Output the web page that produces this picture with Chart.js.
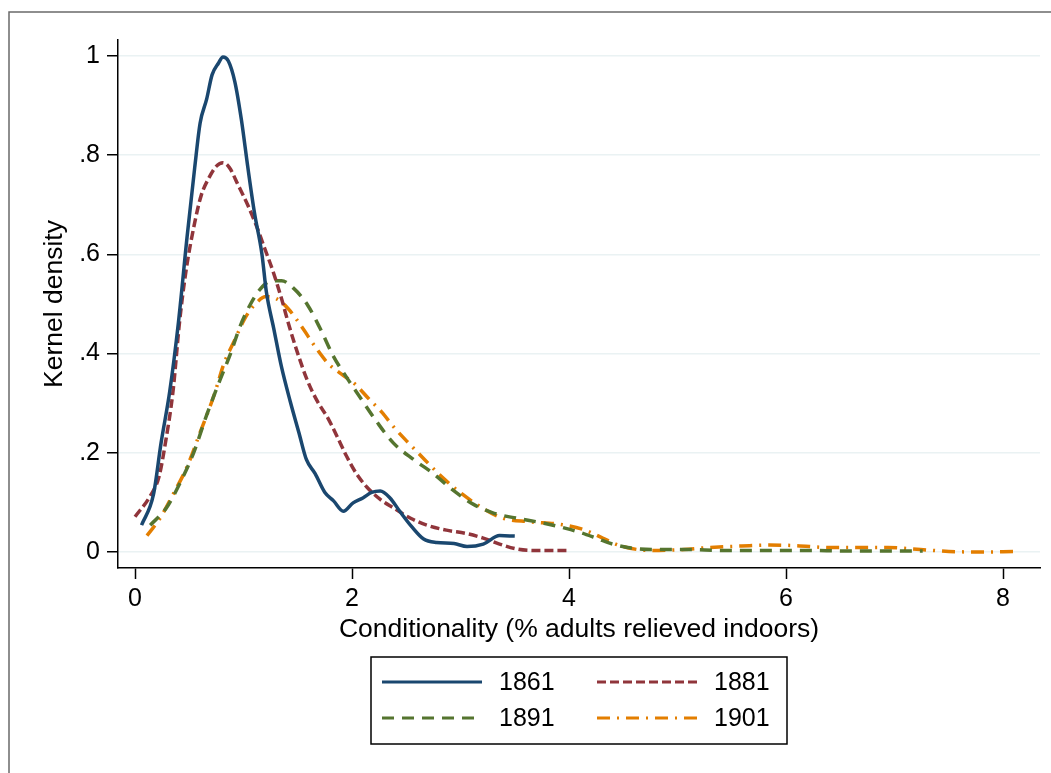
<!DOCTYPE html>
<html>
<head>
<meta charset="utf-8">
<script src="https://cdn.jsdelivr.net/npm/chart.js@4.4.1/dist/chart.umd.min.js"></script>
<style>
  html, body { margin: 0; padding: 0; background: #fff; }
  #wrap { position: relative; width: 1051px; height: 773px; }
</style>
</head>
<body>
<div id="wrap"><canvas id="kdens" width="1051" height="773"></canvas></div>
<script>
'use strict'

// series names
const years = ['1861', '1881', '1891', '1901'];

// 1861
const x1861 = [0.06, 0.17, 0.24, 0.32, 0.40, 0.48, 0.55, 0.60, 0.66, 0.71, 0.77, 0.81, 0.86, 0.92, 0.98, 1.04, 1.10, 1.17, 1.21, 1.28, 1.35, 1.43, 1.51, 1.58, 1.66, 1.75, 1.83, 1.92, 2.01, 2.10, 2.18, 2.26, 2.35, 2.44, 2.55, 2.66, 2.78, 2.94, 3.06, 3.21, 3.36, 3.50];
const y1861 = [0.054, 0.116, 0.22, 0.324, 0.463, 0.636, 0.775, 0.865, 0.913, 0.962, 0.986, 0.998, 0.99, 0.948, 0.872, 0.775, 0.685, 0.60, 0.525, 0.449, 0.373, 0.304, 0.241, 0.186, 0.158, 0.12, 0.103, 0.082, 0.099, 0.109, 0.12, 0.123, 0.109, 0.082, 0.051, 0.026, 0.019, 0.017, 0.011, 0.016, 0.033, 0.032];

// 1881
const x1881 = [0.00, 0.14, 0.22, 0.28, 0.35, 0.41, 0.47, 0.55, 0.61, 0.68, 0.75, 0.81, 0.87, 0.95, 1.04, 1.12, 1.19, 1.27, 1.35, 1.42, 1.50, 1.59, 1.68, 1.78, 1.86, 1.95, 2.04, 2.14, 2.26, 2.38, 2.54, 2.69, 2.87, 3.06, 3.21, 3.36, 3.52, 3.67, 3.98];
const y1881 = [0.071, 0.113, 0.151, 0.22, 0.324, 0.463, 0.567, 0.664, 0.719, 0.754, 0.778, 0.785, 0.775, 0.74, 0.699, 0.657, 0.615, 0.567, 0.511, 0.456, 0.40, 0.345, 0.304, 0.269, 0.234, 0.193, 0.158, 0.13, 0.106, 0.089, 0.068, 0.054, 0.044, 0.037, 0.028, 0.016, 0.006, 0.003, 0.003];

// 1891
const x1891 = [0.14, 0.29, 0.41, 0.54, 0.66, 0.78, 0.88, 0.97, 1.06, 1.15, 1.25, 1.35, 1.46, 1.59, 1.71, 1.83, 1.95, 2.08, 2.23, 2.38, 2.57, 2.75, 2.94, 3.12, 3.31, 3.52, 3.77, 3.98, 4.12, 4.26, 4.40, 4.54, 4.76, 5.06, 5.44, 5.81, 6.19, 6.56, 6.94, 7.26];
const y1891 = [0.054, 0.089, 0.137, 0.20, 0.276, 0.345, 0.40, 0.456, 0.498, 0.529, 0.546, 0.547, 0.532, 0.498, 0.449, 0.394, 0.352, 0.31, 0.262, 0.22, 0.186, 0.158, 0.123, 0.096, 0.078, 0.068, 0.058, 0.047, 0.038, 0.027, 0.016, 0.009, 0.005, 0.005, 0.003, 0.003, 0.003, 0.002, 0.002, 0.002];

// 1901
const x1901 = [0.11, 0.23, 0.35, 0.48, 0.60, 0.73, 0.82, 0.92, 1.01, 1.10, 1.21, 1.30, 1.41, 1.53, 1.66, 1.78, 1.90, 2.03, 2.15, 2.27, 2.40, 2.52, 2.67, 2.83, 3.02, 3.20, 3.39, 3.63, 3.94, 4.15, 4.31, 4.48, 4.76, 5.06, 5.29, 5.59, 5.85, 6.08, 6.41, 6.68, 6.94, 7.24, 7.50, 7.80, 8.10];
const y1901 = [0.033, 0.068, 0.116, 0.172, 0.241, 0.317, 0.38, 0.428, 0.47, 0.498, 0.515, 0.511, 0.491, 0.456, 0.414, 0.38, 0.359, 0.338, 0.31, 0.283, 0.248, 0.22, 0.186, 0.151, 0.116, 0.089, 0.068, 0.061, 0.055, 0.044, 0.028, 0.012, 0.003, 0.005, 0.009, 0.012, 0.014, 0.013, 0.009, 0.009, 0.009, 0.005, 0.001, 0, 0.001];

// axis ticks
const xTicks = [0, 2, 4, 6, 8];
const xTickLabels = ['0', '2', '4', '6', '8'];
const yTicks = [0, 0.2, 0.4, 0.6, 0.8, 1];
const yTickLabels = ['0', '.2', '.4', '.6', '.8', '1'];

const FONT = "'Liberation Sans', Arial, sans-serif";

function pts(xs, ys) {
  return xs.map((x, i) => ({ x: x, y: ys[i] }));
}

function line(label, xs, ys, color, dash) {
  return {
    label: label,
    data: pts(xs, ys),
    borderColor: color,
    backgroundColor: color,
    borderWidth: 3.5,
    borderDash: dash,
    pointRadius: 0,
    cubicInterpolationMode: 'monotone',
    fill: false
  };
}

// outer frame of the graph region (cut by the window)
const framePlugin = {
  id: 'frame',
  beforeDraw(chart) {
    const c = chart.ctx;
    c.save();
    c.fillStyle = '#fff';
    c.fillRect(0, 0, chart.width, chart.height);
    c.strokeStyle = '#6a6a6a';
    c.lineWidth = 1.5;
    c.beginPath();
    c.moveTo(9, chart.height);
    c.lineTo(9, 12);
    c.lineTo(chart.width, 12);
    c.stroke();
    c.restore();
  }
};

// boxed two column legend
const legendPlugin = {
  id: 'boxLegend',
  afterDraw(chart) {
    const c = chart.ctx;
    c.save();
    c.strokeStyle = '#000';
    c.lineWidth = 1.5;
    c.strokeRect(371, 657, 416, 87);
    const spots = [[382, 682], [597, 682], [382, 718], [597, 718]];
    chart.data.datasets.forEach((ds, i) => {
      const [lx, ly] = spots[i];
      c.strokeStyle = ds.borderColor;
      c.lineWidth = 3;
      c.setLineDash(ds.borderDash || []);
      c.beginPath();
      c.moveTo(lx, ly);
      c.lineTo(lx + 100, ly);
      c.stroke();
      c.setLineDash([]);
      c.fillStyle = '#000';
      c.font = '25px ' + FONT;
      c.textBaseline = 'middle';
      c.fillText(ds.label, lx + 117, ly + 1);
    });
    c.restore();
  }
};

const ctx = document.getElementById('kdens').getContext('2d');
const kdChart = new Chart(ctx, {
  type: 'scatter',
  data: {
    datasets: [
      line(years[0], x1861, y1861, '#1a476f', []),
      line(years[1], x1881, y1881, '#90353b', [9, 4]),
      line(years[2], x1891, y1891, '#55752f', [12, 8]),
      line(years[3], x1901, y1901, '#e37e00', [13, 7, 2, 7])
    ]
  },
  options: {
    responsive: false,
    animation: false,
    showLine: true,
    layout: { padding: { top: 40, right: 11, left: 0, bottom: 0 } },
    plugins: {
      legend: { display: false },
      tooltip: { enabled: false }
    },
    scales: {
      x: {
        type: 'linear',
        min: -0.157,
        max: 8.341,
        afterBuildTicks: s => { s.ticks = xTicks.map(v => ({ value: v })); },
        afterFit: s => { s.height = 205; },
        ticks: {
          autoSkip: false,
          maxRotation: 0,
          padding: 5,
          color: '#000',
          font: { family: FONT, size: 25 },
          callback: (v, i) => xTickLabels[i]
        },
        grid: { drawOnChartArea: false, tickLength: 11, tickColor: '#000', tickWidth: 1.5 },
        border: { display: true, color: '#000', width: 1.5 },
        title: {
          display: true,
          text: 'Conditionality (% adults relieved indoors)',
          color: '#000',
          font: { family: FONT, size: 26.5 },
          padding: { top: 0, bottom: 127 }
        }
      },
      y: {
        type: 'linear',
        min: -0.0323,
        max: 1.0323,
        afterBuildTicks: s => { s.ticks = yTicks.map(v => ({ value: v })); },
        afterFit: s => { s.width = 118; },
        ticks: {
          autoSkip: false,
          padding: 7,
          color: '#000',
          font: { family: FONT, size: 25 },
          callback: (v, i) => yTickLabels[i]
        },
        grid: { color: '#eaf2f3', lineWidth: 1.5, tickLength: 11, tickColor: '#000', tickWidth: 1.5 },
        border: { display: true, color: '#000', width: 1.5 },
        title: {
          display: true,
          text: 'Kernel density',
          color: '#000',
          font: { family: FONT, size: 26.5 },
          padding: { top: 39, bottom: 0 }
        }
      }
    }
  },
  plugins: [framePlugin, legendPlugin]
});
</script>
</body>
</html>
